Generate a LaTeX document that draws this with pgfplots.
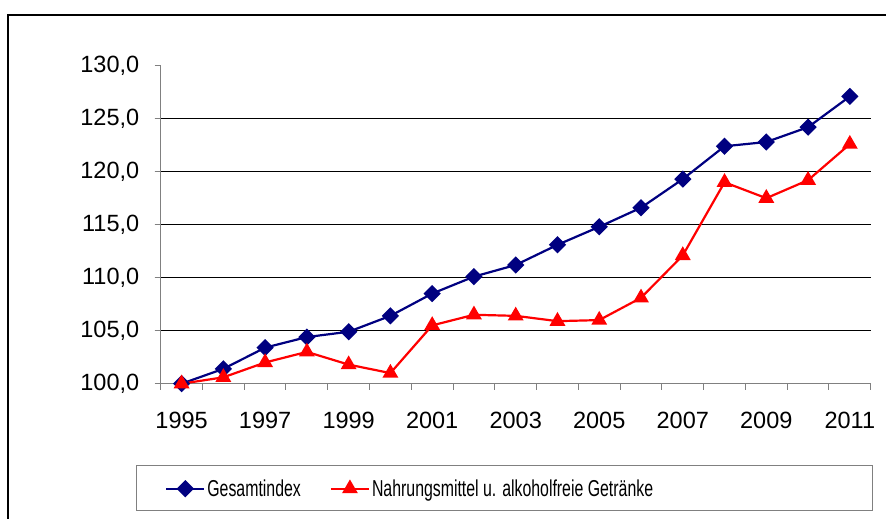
\documentclass[border=0pt]{standalone}
\usepackage{fontspec}
\setmainfont{Liberation Sans}
\usepackage{graphicx}
\usepackage{pgfplots}
\pgfplotsset{compat=1.18}
\definecolor{navyc}{RGB}{0,0,128}
\definecolor{axgray}{RGB}{128,128,128}
\begin{document}
\begin{tikzpicture}[x=1bp,y=1bp]
\path[use as bounding box] (0,0) rectangle (886,519);
\draw[line width=2bp] (8,-20) rectangle (920,504);
\draw[axgray, line width=1bp] (136,8) rectangle (872,53);
\begin{axis}[
  at={(160.7bp,135.3bp)}, anchor=south west,
  width=710bp, height=318bp, scale only axis,
  xmin=0, xmax=17, ymin=100, ymax=130,
  axis x line*=bottom, axis y line*=left,
  axis line style={axgray, line width=1bp, -},
  tick align=outside,
  major tick length=6bp, minor tick length=6bp,
  tick style={axgray, line width=1bp},
  xtick={0.5,2.5,...,16.5},
  xticklabels={1995,1997,1999,2001,2003,2005,2007,2009,2011},
  minor xtick={0,1,...,17},
  major x tick style={draw=none},
  ytick={100,105,...,130},
  extra y ticks={105,110,115,120,125},
  extra y tick labels={},
  extra y tick style={grid=major, major grid style={black, line width=0.9bp}},
  /pgf/number format/.cd, fixed, fixed zerofill, precision=1, use comma, assume math mode=true,
  /pgfplots/.cd,
  ticklabel style={font=\fontsize{23.5bp}{28bp}\selectfont},
  xticklabel style={yshift=-19bp},
  yticklabel style={xshift=-12bp},
  clip=false,
  legend style={draw=none, fill=none, at={(axis description cs:0.006,-0.33)}, anchor=west,
    font=\fontsize{23bp}{27bp}\selectfont, inner sep=0pt,
    /tikz/every even column/.append style={column sep=27bp}},
  legend columns=2,
  legend cell align=left,
  legend image code/.code={\draw[#1,mark repeat=2,mark phase=2] plot coordinates {(0bp,0bp)(19bp,0bp)(38bp,0bp)};},
]
\addplot[navyc, line width=2.2bp, mark=square*, mark size=5bp, mark options={rotate=45, solid}] coordinates {
(0.5,100.0) (1.5,101.4) (2.5,103.4) (3.5,104.4) (4.5,104.9) (5.5,106.4) (6.5,108.5) (7.5,110.1) (8.5,111.2)
(9.5,113.1) (10.5,114.8) (11.5,116.6) (12.5,119.3) (13.5,122.4) (14.5,122.8) (15.5,124.2) (16.5,127.1)};
\addlegendentry{\scalebox{0.69}[1]{Gesamtindex}}
\addplot[red, line width=2.2bp, mark=triangle*, mark size=7bp, mark options={solid}] coordinates {
(0.5,100.0) (1.5,100.6) (2.5,102.0) (3.5,103.0) (4.5,101.8) (5.5,101.0) (6.5,105.5) (7.5,106.5) (8.5,106.4)
(9.5,105.9) (10.5,106.0) (11.5,108.1) (12.5,112.1) (13.5,119.0) (14.5,117.5) (15.5,119.2) (16.5,122.6)};
\addlegendentry{\scalebox{0.69}[1]{Nahrungsmittel u. alkoholfreie Getränke}}
\end{axis}
\end{tikzpicture}
\end{document}
